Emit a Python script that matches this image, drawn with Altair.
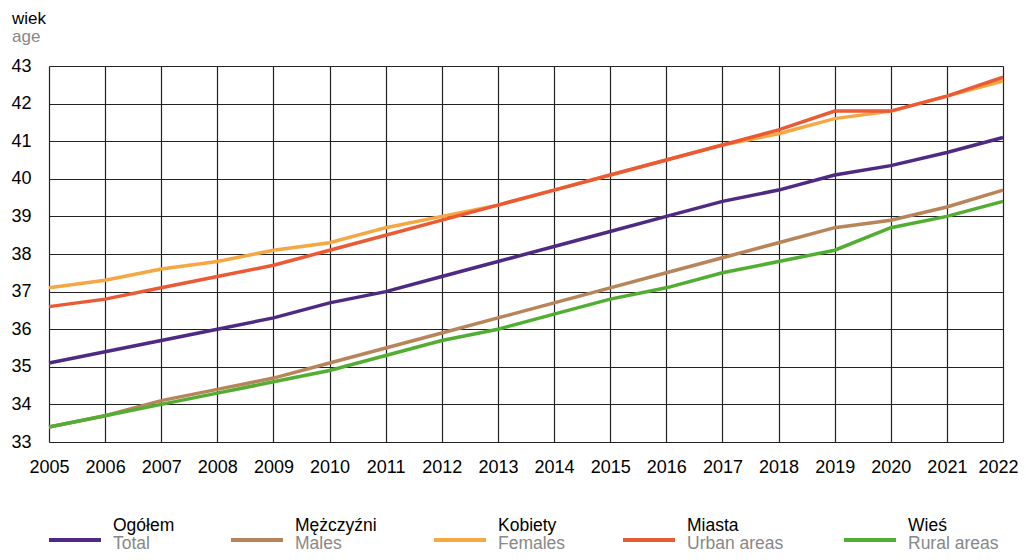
import altair as alt
import pandas as pd

years = list(range(2005, 2023))
ogolem = [35.1, 35.4, 35.7, 36.0, 36.3, 36.7, 37.0, 37.4, 37.8, 38.2, 38.6, 39.0, 39.4, 39.7, 40.1, 40.35, 40.7, 41.1]
mezczyzni = [33.4, 33.7, 34.1, 34.4, 34.7, 35.1, 35.5, 35.9, 36.3, 36.7, 37.1, 37.5, 37.9, 38.3, 38.7, 38.9, 39.25, 39.7]
kobiety = [37.1, 37.3, 37.6, 37.8, 38.1, 38.3, 38.7, 39.0, 39.3, 39.7, 40.1, 40.5, 40.9, 41.2, 41.6, 41.8, 42.2, 42.6]
miasta = [36.6, 36.8, 37.1, 37.4, 37.7, 38.1, 38.5, 38.9, 39.3, 39.7, 40.1, 40.5, 40.9, 41.3, 41.8, 41.8, 42.2, 42.7]
wies = [33.4, 33.7, 34.0, 34.3, 34.6, 34.9, 35.3, 35.7, 36.0, 36.4, 36.8, 37.1, 37.5, 37.8, 38.1, 38.7, 39.0, 39.4]
y_ticks = [33, 34, 35, 36, 37, 38, 39, 40, 41, 42, 43]

series_pl = ["Ogółem", "Mężczyźni", "Kobiety", "Miasta", "Wieś"]
series_en = ["Total", "Males", "Females", "Urban areas", "Rural areas"]
series_vals = [ogolem, mezczyzni, kobiety, miasta, wies]
colors = ["#4e2a84", "#b8855a", "#f5a742", "#ea5a35", "#52ae32"]

FONT = "Liberation Sans"

x_enc = alt.X("year:Q", scale=alt.Scale(domain=[2005, 2022], nice=False),
              axis=alt.Axis(values=years, tickCount=40, format="d", title=None, labelFontSize=18,
                            labelColor="#000", labelPadding=16, ticks=False, domain=False,
                            gridColor="#222", gridWidth=1.2, labelFont=FONT, labelFlush=False,
                            labelOverlap=False,
                            labelOffset={"condition": {"test": "datum.value == 2022", "value": -5}, "value": 0}))
y_enc = alt.Y("value:Q", scale=alt.Scale(domain=[33, 43], nice=False, zero=False),
              axis=alt.Axis(values=y_ticks, tickCount=30, format="d", title=None, labelFontSize=18,
                            labelColor="#000", labelPadding=18, ticks=False, domain=False,
                            gridColor="#222", gridWidth=1.2, labelFont=FONT, labelOverlap=False,
                            labelFlush=False))

layers = []
for name, vals, col in zip(series_pl, series_vals, colors):
    df = pd.DataFrame({"year": years, "value": vals, "series": name})
    layers.append(alt.Chart(df).mark_line(strokeWidth=3.5, color=col).encode(x=x_enc, y=y_enc))

one = pd.DataFrame({"k": [0]})

# legend
sw_x = [0, 182, 385, 574, 795]
for name, en, col, sx in zip(series_pl, series_en, colors, sw_x):
    layers.append(alt.Chart(one).mark_rule(strokeWidth=4, color=col).encode(
        x=alt.value(sx), x2=alt.value(sx + 52), y=alt.value(474)))
    layers.append(alt.Chart(one).mark_text(align="left", baseline="alphabetic", fontSize=17.5,
                                           font=FONT, color="#000").encode(
        x=alt.value(sx + 64), y=alt.value(465), text=alt.value(name)))
    layers.append(alt.Chart(one).mark_text(align="left", baseline="alphabetic", fontSize=17.5,
                                           font=FONT, color="#888").encode(
        x=alt.value(sx + 64), y=alt.value(483), text=alt.value(en)))

# y title
layers.append(alt.Chart(one).mark_text(align="left", baseline="middle", fontSize=17,
                                       font=FONT, color="#000").encode(
    x=alt.value(-37), y=alt.value(-47), text=alt.value("wiek")))
layers.append(alt.Chart(one).mark_text(align="left", baseline="middle", fontSize=17,
                                       font=FONT, color="#888").encode(
    x=alt.value(-37), y=alt.value(-29), text=alt.value("age")))

chart = alt.layer(*layers).properties(
    width=954, height=376,
    padding={"left": 41, "top": 58, "right": 15, "bottom": 110},
    autosize="none",
).configure_view(stroke="#777", strokeWidth=1.5).configure(background="white")

chart.save("out.html", embed_options={"renderer": "svg", "actions": False})
